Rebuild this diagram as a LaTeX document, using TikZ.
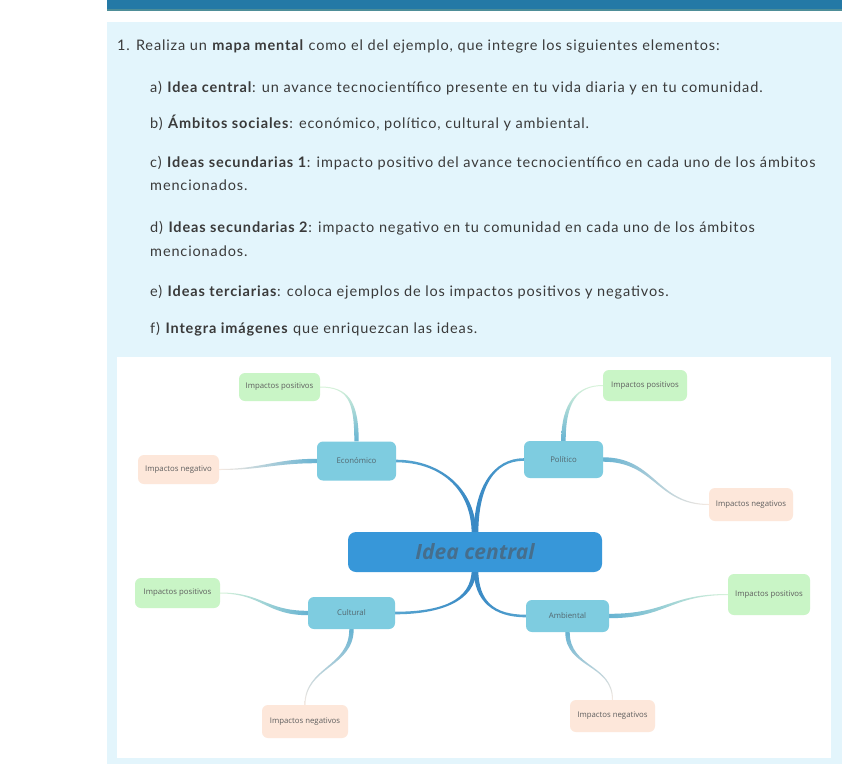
\documentclass[tikz,border=0pt]{standalone}
\usepackage{fontspec}
\setmainfont[LetterSpace=6]{Lato}
\newfontfamily\mapfont{Open Sans}
\usetikzlibrary{calc}
\pgfdeclarelayer{panel}
\pgfdeclarelayer{links}
\pgfsetlayers{panel,links,main}
\definecolor{topbar}{HTML}{2479A6}
\definecolor{topline}{HTML}{4E8E98}
\definecolor{panelblue}{HTML}{E3F5FC}
\definecolor{txtcol}{HTML}{3A3A3A}
\definecolor{catfill}{HTML}{7ECCE0}
\definecolor{cattext}{HTML}{52666E}
\definecolor{centralfill}{HTML}{3797D9}
\definecolor{centraltext}{HTML}{466E8C}
\definecolor{greenfill}{HTML}{C9F5C6}
\definecolor{peachfill}{HTML}{FDE7DA}
\definecolor{leaftext}{HTML}{5E5E5E}
\definecolor{linkblue}{HTML}{67B3D2}
\definecolor{palegreen}{HTML}{D8F3DA}
\definecolor{palepeach}{HTML}{F6E9E1}
\definecolor{clinkdark}{HTML}{3888C4}
\definecolor{clinklight}{HTML}{58A6D0}
% #1 shading, #2 start, #3 ctrl offset from start, #4 ctrl offset from end, #5 end, #6 half width vector at start, #7 half width vector at end
\newcommand{\taperlink}[7]{%
  \shade[#1] ($(#2)+(#6)$) .. controls ($(#2)+(#3)+(#6)$) and ($(#5)+(#4)+(#7)$) .. ($(#5)+(#7)$)
    -- ($(#5)-(#7)$) .. controls ($(#5)+(#4)-(#7)$) and ($(#2)+(#3)-(#6)$) .. ($(#2)-(#6)$) -- cycle;}
\begin{document}
\begin{tikzpicture}[x=1pt,y=-1pt,
  txt/.style={anchor=base west,inner sep=0pt,text=txtcol,font=\fontsize{14.5}{17}\selectfont},
  catbox/.style={fill=catfill,rounded corners=6pt,inner sep=0pt,text=cattext,font=\mapfont\fontsize{7.8}{9}\selectfont},
  leafpos/.style={fill=greenfill,rounded corners=6pt,inner sep=0pt,text=leaftext,font=\mapfont\fontsize{7.8}{9}\selectfont},
  leafneg/.style={fill=peachfill,rounded corners=6pt,inner sep=0pt,text=leaftext,font=\mapfont\fontsize{7.8}{9}\selectfont},
  centralbox/.style={fill=centralfill,rounded corners=8pt,inner sep=0pt,text=centraltext,font=\mapfont\bfseries\itshape\fontsize{21}{25}\selectfont}
]
\useasboundingbox (0,0) rectangle (846,764);
\begin{pgfonlayer}{panel}
  \fill[white] (0,0) rectangle (846,764);
  \fill[topbar] (107,0) rectangle (842,9);
  \fill[topline] (107,9) rectangle (842,10.5);
  \fill[panelblue] (107,22) rectangle (842,764);
  \fill[white] (117,357) rectangle (831,758);
\end{pgfonlayer}

% instruction text
\node[txt] (l1) at (117,50.5) {1. Realiza un \textbf{mapa mental} como el del ejemplo, que integre los siguientes elementos:};
\node[txt] (la) at (150,92.5) {a) \textbf{Idea central}: un avance tecnocientífico presente en tu vida diaria y en tu comunidad.};
\node[txt] (lb) at (150,128.5) {b) \textbf{Ámbitos sociales}: económico, político, cultural y ambiental.};
\node[txt] (lc) at (150,167.5) {c) \textbf{Ideas secundarias 1}: impacto positivo del avance tecnocientífico en cada uno de los ámbitos};
\node[txt] (lc2) at (150,190.5) {mencionados.};
\node[txt] (ld) at (150,232.5) {d) \textbf{Ideas secundarias 2}: impacto negativo en tu comunidad en cada uno de los ámbitos};
\node[txt] (ld2) at (150,256.5) {mencionados.};
\node[txt] (le) at (150,296.5) {e) \textbf{Ideas terciarias}: coloca ejemplos de los impactos positivos y negativos.};
\node[txt] (lf) at (150,333.5) {f) \textbf{Integra imágenes} que enriquezcan las ideas.};

% mind map nodes
\node[centralbox,minimum width=254pt,minimum height=40pt] (central) at (475,552) {Idea central};
\node[catbox,minimum width=79pt,minimum height=39pt] (eco) at (356.5,461) {Económico};
\node[catbox,minimum width=79pt,minimum height=37pt] (pol) at (563.5,459.5) {Político};
\node[catbox,minimum width=87pt,minimum height=32pt] (cul) at (351.5,613) {Cultural};
\node[catbox,minimum width=83pt,minimum height=32pt] (amb) at (567.5,616) {Ambiental};
\node[leafpos,minimum width=81pt,minimum height=28pt] (posTL) at (279.5,387) {Impactos positivos};
\node[leafneg,minimum width=81pt,minimum height=29pt] (negL) at (178.5,469.5) {Impactos negativo};
\node[leafpos,minimum width=84pt,minimum height=31pt] (posTR) at (645,385.5) {Impactos positivos};
\node[leafneg,minimum width=84pt,minimum height=33pt] (negR) at (751,504.5) {Impactos negativos};
\node[leafpos,minimum width=85pt,minimum height=30pt] (posL) at (177.5,593) {Impactos positivos};
\node[leafneg,minimum width=86pt,minimum height=33pt] (negBL) at (305,721.5) {Impactos negativos};
\node[leafpos,minimum width=82pt,minimum height=41pt] (posR) at (769,594.5) {Impactos positivos};
\node[leafneg,minimum width=85pt,minimum height=32pt] (negBR) at (612.5,716) {Impactos negativos};

\coordinate (ctopL) at ($(central.north)+(-1,3)$);
\coordinate (ctopR) at ($(central.north)+(1,3)$);
\coordinate (cbotL) at ($(central.south)+(-1,-3)$);
\coordinate (cbotR) at ($(central.south)+(1,-3)$);

\begin{pgfonlayer}{links}
  % central links
  \taperlink{left color=clinklight,right color=clinkdark}{ctopL}{0,-48}{42,0}{eco.east}{2.3,0}{0,-1.3}
  \taperlink{left color=clinkdark,right color=clinklight}{ctopR}{0,-48}{-30,0}{pol.west}{2.3,0}{0,1.3}
  \taperlink{left color=clinklight,right color=clinkdark}{cbotL}{0,32}{45,0}{cul.east}{-2.3,0}{0,-1.3}
  \taperlink{left color=clinkdark,right color=clinklight}{cbotR}{0,32}{-32,0}{amb.west}{-2.3,0}{0,1.3}
  % category to leaf links
  \taperlink{top color=palegreen,bottom color=linkblue}{eco.north}{0,-40}{28,0}{posTL.east}{2.2,0}{0,-0.5}
  \taperlink{left color=palepeach,right color=linkblue}{eco.west}{-42,0}{42,0}{negL.east}{0,-2.2}{0,-0.5}
  \taperlink{top color=palegreen,bottom color=linkblue}{pol.north}{0,-38}{-26,0}{posTR.west}{2.2,0}{0,0.5}
  \taperlink{left color=linkblue,right color=palepeach}{pol.east}{52,0}{-52,0}{negR.west}{0,2.2}{0,0.5}
  \taperlink{left color=palegreen,right color=linkblue}{cul.west}{-42,0}{42,0}{posL.east}{0,-2.2}{0,-0.5}
  \taperlink{top color=linkblue,bottom color=palepeach}{cul.south}{0,38}{0,-38}{negBL.north}{-2.2,0}{-0.5,0}
  \taperlink{left color=linkblue,right color=palegreen}{amb.east}{58,0}{-58,0}{posR.west}{0,2.2}{0,0.5}
  \taperlink{top color=linkblue,bottom color=palepeach}{amb.south}{0,36}{0,-36}{negBR.north}{-2.2,0}{-0.5,0}
\end{pgfonlayer}
\end{tikzpicture}
\end{document}
